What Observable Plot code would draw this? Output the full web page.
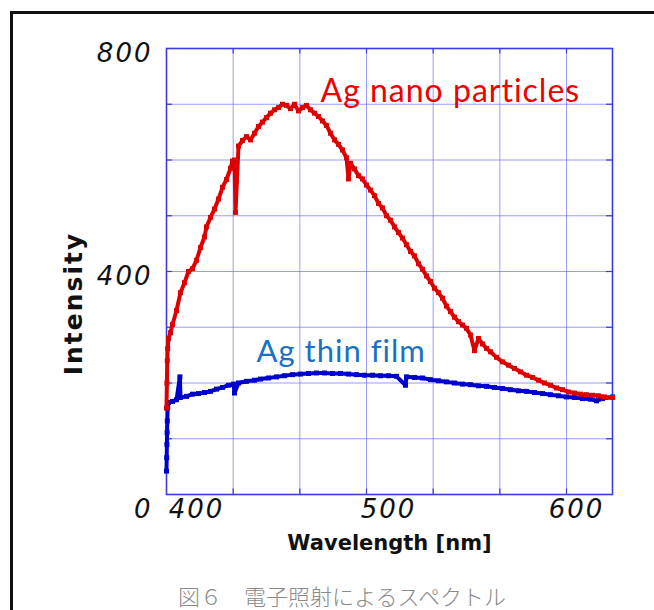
<!DOCTYPE html>
<html>
<head>
<meta charset="utf-8">
<script src="https://cdn.jsdelivr.net/npm/d3@7"></script>
<script src="https://cdn.jsdelivr.net/npm/@observablehq/plot@0.6"></script>
<style>
  html, body { margin: 0; padding: 0; background: #fff; }
  #wrap { position: relative; width: 654px; height: 610px; overflow: hidden; }
  #border { position: absolute; left: 10px; top: 11px; width: 800px; height: 800px;
            border-left: 3px solid #111; border-top: 3px solid #111; }
  #chart { position: absolute; left: 0; top: 0; }
  #caption { position: absolute; left: 0; width: 684px; top: 581px; text-align: center;
             font-family: "Noto Sans CJK JP", sans-serif; font-weight: 300; font-size: 22px;
             color: #8a8a8a; line-height: 28px; }
  .tl text { letter-spacing: 2px; }
  .lab text { letter-spacing: 1px; }
  .ylab text { letter-spacing: 2px; }
</style>
</head>
<body>
<div id="wrap">
  <div id="border"></div>
  <div id="chart"></div>
  <div id="caption">図６　電子照射によるスペクトル</div>
</div>
<script>
// Ag nano particles (red)
const redWavelength = [400.0, 400.2, 400.4, 400.6, 401, 402, 403, 405, 407, 409, 411, 413, 415, 417, 419, 420, 422, 424, 426, 428, 430, 432, 433, 434, 434.5, 436, 438, 440, 442, 444, 446, 448, 450, 452, 454, 456, 458, 460, 462, 464, 466, 468, 470, 472, 474, 476, 478, 480, 482, 484, 486, 488, 490, 491, 492, 494, 496, 498, 500, 502, 504, 506, 508, 510, 512, 514, 516, 518, 520, 522, 524, 526, 528, 530, 532, 534, 536, 538, 540, 542, 544, 546, 548, 550, 552, 554, 556, 558, 560, 562, 565, 568, 571, 574, 577, 580, 583, 586, 589, 592, 595, 598, 601, 604, 607, 610, 613, 616, 619, 623];
const redIntensity  = [155, 200, 240, 262, 280, 290, 305, 330, 362, 380, 400, 405, 420, 443, 462, 480, 497, 512, 530, 551, 565, 585, 598, 600, 506, 625, 635, 642, 636, 648, 660, 668, 676, 684, 690, 694, 700, 698, 692, 700, 688, 694, 698, 690, 684, 678, 670, 662, 648, 636, 628, 618, 604, 566, 594, 584, 572, 566, 555, 546, 536, 522, 514, 500, 492, 480, 470, 460, 448, 436, 428, 414, 404, 392, 382, 370, 362, 352, 338, 328, 318, 310, 304, 298, 286, 258, 280, 270, 262, 256, 246, 238, 232, 226, 220, 214, 210, 205, 200, 196, 191, 188, 184, 182, 180, 179, 178, 177, 175, 174];

// Ag thin film (blue)
const blueWavelength = [400.0, 400.1, 400.2, 400.3, 400.4, 400.6, 401, 403, 405, 406.7, 407, 410, 413, 416, 419, 422, 425, 428, 431, 433.5, 434, 436, 440, 444, 447, 451, 455, 459, 463, 467, 471, 475, 479, 483, 487, 491, 495, 499, 503, 507, 511, 515, 519.5, 520, 524, 528, 532, 536, 540, 544, 548, 552, 556, 560, 564, 568, 572, 576, 580, 584, 588, 592, 596, 600, 604, 608, 612, 615, 618, 623];
const blueIntensity  = [42, 66, 90, 111, 132, 156, 165, 167, 170, 211, 174, 176, 180, 181, 183, 185, 189, 192, 196, 198, 182, 200, 203, 205, 207, 209, 211, 213, 215, 216, 217, 218, 218, 217, 217, 216, 215, 214, 214, 213, 213, 212, 196, 211, 210, 209, 206, 204, 202, 200, 198, 197, 195, 194, 192, 190, 188, 186, 185, 183, 181, 179, 177, 175, 174, 172, 171, 168, 172, 175];

const xDomain = [400, 623];
const yDomain = [0, 800];
const xGridTicks = [433.33, 466.67, 500, 533.33, 566.67, 600];
const yGridTicks = [100, 200, 300, 400, 500, 600, 700];

const red = redWavelength.map((x, i) => ({x, y: redIntensity[i]}));
const blue = blueWavelength.map((x, i) => ({x, y: blueIntensity[i]}));

const tickFont = {fontFamily: "DejaVu Sans", fontStyle: "italic", fontSize: 26, fill: "#111"};

const chart = Plot.plot({
  width: 654,
  height: 568,
  marginLeft: 166,
  marginRight: 42,
  marginTop: 48,
  marginBottom: 74,
  x: {domain: xDomain},
  y: {domain: yDomain},
  style: {background: "transparent", overflow: "visible"},
  marks: [
    Plot.gridX(xGridTicks, {stroke: "#6f6fff", strokeOpacity: 0.7, strokeWidth: 1}),
    Plot.gridY(yGridTicks, {stroke: "#6f6fff", strokeOpacity: 0.7, strokeWidth: 1}),
    Plot.ruleX(xGridTicks, {y1: 0, y2: 10, stroke: "#3a3ae8", strokeWidth: 1.2}),
    Plot.ruleX(xGridTicks, {y1: 790, y2: 800, stroke: "#3a3ae8", strokeWidth: 1.2}),
    Plot.ruleY(yGridTicks, {x1: 400, x2: 403, stroke: "#3a3ae8", strokeWidth: 1.2}),
    Plot.ruleY(yGridTicks, {x1: 620, x2: 623, stroke: "#3a3ae8", strokeWidth: 1.2}),
    Plot.frame({stroke: "#3a3ae8", strokeWidth: 1.6}),
    Plot.line(blue, {x: "x", y: "y", stroke: "#0000cc", strokeWidth: 4}),
    Plot.dot(blue, {x: "x", y: "y", symbol: "square", r: 2.8, fill: "#0000cc"}),
    Plot.line(red, {x: "x", y: "y", stroke: "#dd0000", strokeWidth: 4}),
    Plot.dot(red, {x: "x", y: "y", symbol: "square", r: 2.8, fill: "#dd0000"}),
    Plot.axisY([400, 800], {tickSize: 0, tickPadding: 14, dy: 5, label: null, className: "tl", ...tickFont}),
    Plot.axisY([0], {tickSize: 0, tickPadding: 14, dy: 15, label: null, className: "tl", ...tickFont}),
    Plot.axisX([400], {tickSize: 0, tickPadding: 5, dx: 30, label: null, className: "tl", ...tickFont}),
    Plot.axisX([500], {tickSize: 0, tickPadding: 5, dx: 22, label: null, className: "tl", ...tickFont}),
    Plot.axisX([600], {tickSize: 0, tickPadding: 5, dx: 10, label: null, className: "tl", ...tickFont}),
    Plot.text(["Wavelength [nm]"], {frameAnchor: "bottom", dy: 55, text: d => d, fontFamily: "DejaVu Sans", fontWeight: "bold", fontSize: 21, fill: "#111"}),
    Plot.text(["Intensity"], {frameAnchor: "left", dx: -93, dy: 32, rotate: -90, textAnchor: "middle", text: d => d, fontFamily: "DejaVu Sans", fontWeight: "bold", fontSize: 25, fill: "#111", className: "ylab"}),
    Plot.text(["Ag nano particles"], {x: 477, y: 722, text: d => d, textAnchor: "start", fontFamily: "Lato", fontSize: 32, fill: "#ee0000", className: "lab"}),
    Plot.text(["Ag thin film"], {x: 445, y: 256, text: d => d, textAnchor: "start", fontFamily: "Lato", fontSize: 31, fill: "#1a70c4", className: "lab"})
  ]
});
document.getElementById("chart").appendChild(chart);
</script>
</body>
</html>
